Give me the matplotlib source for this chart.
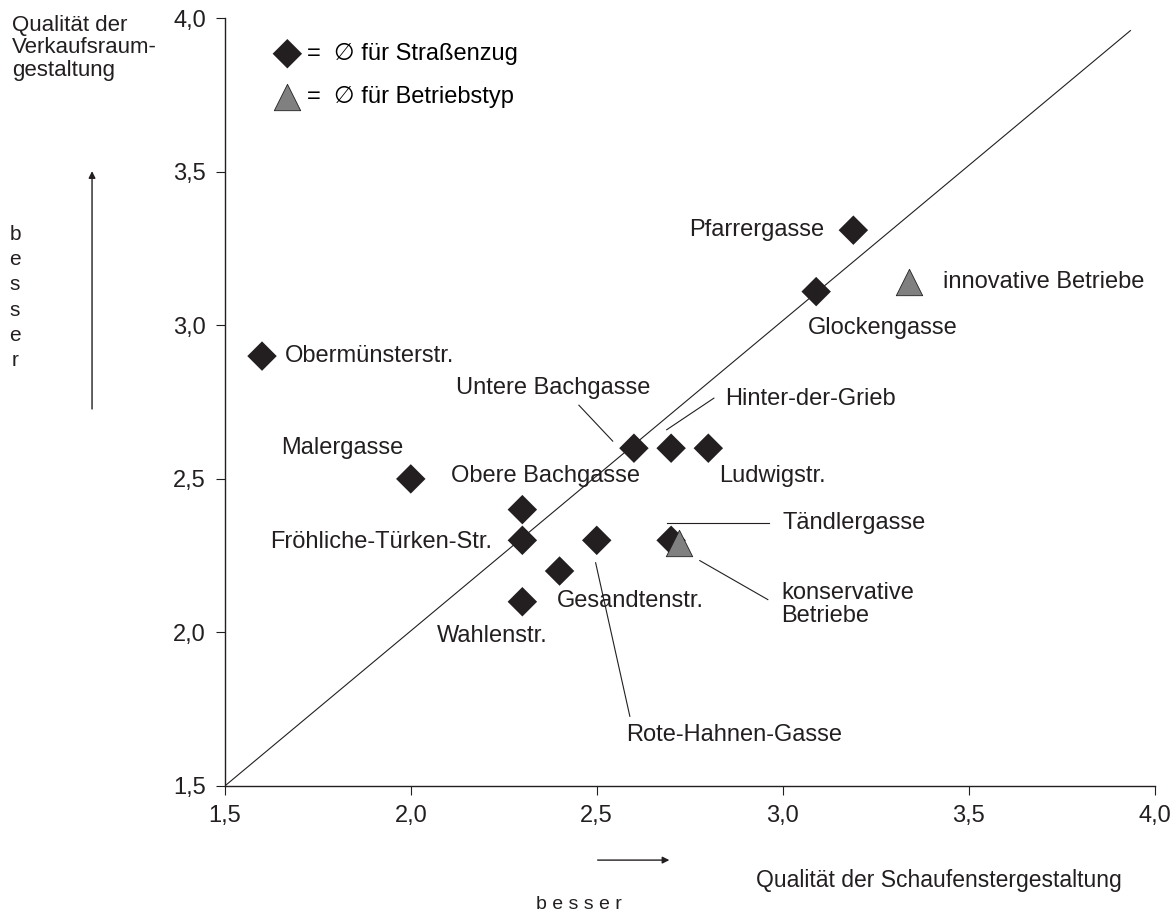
import matplotlib.pyplot as plt
from matplotlib.patches import FancyArrowPatch

plt.rcParams['font.family'] = ['Liberation Sans', 'DejaVu Sans']

# Straßenzüge: Schaufenster (x) und Verkaufsraum (y)
strassen = ['Obermünsterstr.', 'Malergasse', 'Obere Bachgasse', 'Fröhliche-Türken-Str.',
            'Wahlenstr.', 'Gesandtenstr.', 'Rote-Hahnen-Gasse', 'Untere Bachgasse',
            'Hinter-der-Grieb', 'Ludwigstr.', 'Tändlergasse', 'Glockengasse', 'Pfarrergasse']
strassen_x = [1.6, 2.0, 2.3, 2.3, 2.3, 2.4, 2.5, 2.6, 2.7, 2.8, 2.7, 3.09, 3.19]
strassen_y = [2.9, 2.5, 2.4, 2.3, 2.1, 2.2, 2.3, 2.6, 2.6, 2.6, 2.3, 3.11, 3.31]

# Betriebstypen
betriebe = ['innovative Betriebe', 'konservative\nBetriebe']
betriebe_x = [3.34, 2.72]
betriebe_y = [3.14, 2.29]

# Beschriftungen: (text x, text y, ha, Hinweislinie)
beschriftung = {
    'Obermünsterstr.': (1.661, 2.90, 'left', None),
    'Malergasse': (1.817, 2.60, 'center', None),
    'Obere Bachgasse': (2.363, 2.51, 'center', None),
    'Fröhliche-Türken-Str.': (2.218, 2.295, 'right', None),
    'Wahlenstr.': (2.22, 1.99, 'center', None),
    'Gesandtenstr.': (2.392, 2.104, 'left', None),
    'Rote-Hahnen-Gasse': (2.58, 1.666, 'left', ((2.497, 2.227), (2.589, 1.727))),
    'Untere Bachgasse': (2.384, 2.795, 'center', ((2.452, 2.74), (2.543, 2.623))),
    'Hinter-der-Grieb': (2.844, 2.76, 'left', ((2.815, 2.763), (2.688, 2.66))),
    'Ludwigstr.': (2.828, 2.51, 'left', None),
    'Tändlergasse': (3.0, 2.357, 'left', ((2.688, 2.357), (2.962, 2.357))),
    'Glockengasse': (3.067, 2.993, 'left', None),
    'Pfarrergasse': (3.113, 3.31, 'right', None),
    'innovative Betriebe': (3.43, 3.14, 'left', None),
    'konservative\nBetriebe': (2.997, 2.091, 'left', ((2.777, 2.234), (2.96, 2.107))),
}

fs = 17
dunkel = '#231f20'

fig = plt.figure(figsize=(11.71, 9.15), dpi=100)
ax = fig.add_axes([0.192, 0.141, 0.794, 0.839])

ax.plot([1.5, 3.935], [1.5, 3.96], color=dunkel, lw=0.8, zorder=1)

h1 = ax.scatter(strassen_x, strassen_y, marker='D', s=15**2, color=dunkel,
                edgecolors='none', zorder=3, label='=  ∅ für Straßenzug')
h2 = ax.scatter(betriebe_x, betriebe_y, marker='^', s=19**2, color='#808080',
                edgecolors=dunkel, linewidths=0.6, zorder=4, label='=  ∅ für Betriebstyp')

for name, (tx, ty, ha, linie) in beschriftung.items():
    ax.text(tx, ty, name, ha=ha, va='center', fontsize=fs, color=dunkel,
            linespacing=1.1)
    if linie is not None:
        ax.plot([linie[0][0], linie[1][0]], [linie[0][1], linie[1][1]],
                color=dunkel, lw=0.8, zorder=2)

ax.legend(handles=[h1, h2], loc='upper left', bbox_to_anchor=(0.052, 0.968),
          frameon=False, fontsize=fs, labelspacing=0.9, handletextpad=0.25,
          handlelength=1.2, borderaxespad=0, borderpad=0)

ax.set_xlim(1.5, 4.0)
ax.set_ylim(1.5, 4.0)
ticks = [1.5, 2.0, 2.5, 3.0, 3.5, 4.0]
tick_labels = ['1,5', '2,0', '2,5', '3,0', '3,5', '4,0']
ax.set_xticks(ticks)
ax.set_xticklabels(tick_labels)
ax.set_yticks(ticks)
ax.set_yticklabels(tick_labels)
ax.tick_params(labelsize=fs, colors=dunkel, length=6.5, width=0.8, pad=7)
ax.spines['top'].set_visible(False)
ax.spines['right'].set_visible(False)
for s in ['left', 'bottom']:
    ax.spines[s].set_color(dunkel)
    ax.spines[s].set_linewidth(1.0)

# Achsentitel und Pfeile
fig.text(0.010, 0.984, 'Qualität der\nVerkaufsraum-\ngestaltung', ha='left', va='top',
         fontsize=16, color=dunkel, linespacing=1.1)
fig.text(0.0128, 0.675, 'b\ne\ns\ns\ne\nr', ha='center', va='center',
         fontsize=15, color=dunkel, linespacing=1.42)
fig.text(0.646, 0.038, 'Qualität der Schaufenstergestaltung', ha='left', va='center',
         fontsize=16.5, color=dunkel)
fig.text(0.494, 0.011, 'b e s s e r', ha='center', va='center', fontsize=14, color=dunkel)
fig.add_artist(FancyArrowPatch(
    (0.0786, 0.55), (0.0786, 0.816), transform=fig.transFigure,
    arrowstyle='-|>,head_length=4,head_width=2', color=dunkel, lw=1.0))
fig.add_artist(FancyArrowPatch(
    (0.508, 0.06), (0.574, 0.06), transform=fig.transFigure,
    arrowstyle='-|>,head_length=4,head_width=2', color=dunkel, lw=1.0))

fig.savefig('out.png', dpi=100)
